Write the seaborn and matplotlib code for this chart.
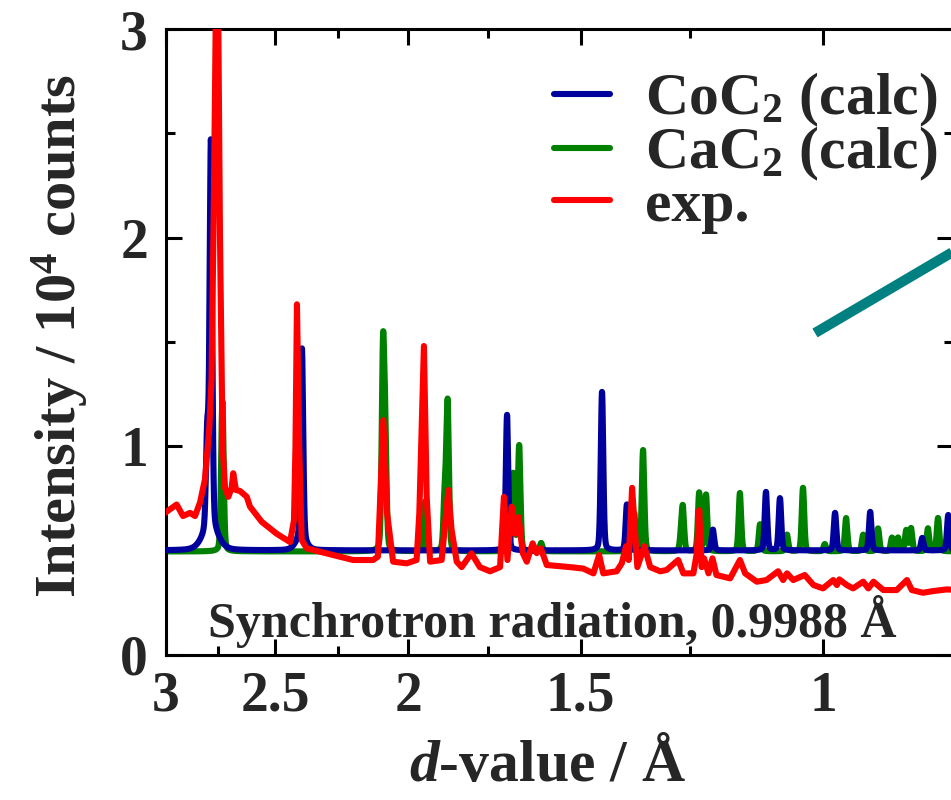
import numpy as np
import pandas as pd
import matplotlib
matplotlib.use("Agg")
import matplotlib.pyplot as plt
import seaborn as sns
from matplotlib.ticker import FixedLocator, FixedFormatter, NullFormatter
from matplotlib.lines import Line2D

# ---------------- data ----------------
# calculated patterns: peak positions d (Å), heights above baseline, widths (FWHM in ln d)
coc2_d = [2.800, 2.783, 2.785, 2.390, 2.395, 1.696, 1.447, 1.388, 1.202, 1.100, 1.0746, 0.980, 0.924, 0.847, 0.811]
coc2_h = [0.45, 1.85, 0.10, 0.92, 0.05, 0.65, 0.76, 0.22, 0.10, 0.28, 0.25, 0.18, 0.185, 0.06, 0.17]
coc2_w = [0.005, 0.005, 0.03, 0.005, 0.02, 0.005, 0.005, 0.005, 0.005, 0.005, 0.005, 0.005, 0.005, 0.005, 0.005]
coc2_base = 0.50

cac2_d = [2.730, 2.087, 2.079, 1.944, 1.882, 1.873, 1.679, 1.662, 1.602, 1.371, 1.351, 1.268, 1.264,
          1.230, 1.216, 1.149, 1.111, 1.062, 1.034, 0.997, 0.962, 0.935, 0.912, 0.891, 0.882,
          0.870, 0.863, 0.839, 0.825]
cac2_h = [0.72, 0.93, 0.50, 0.24, 0.28, 0.70, 0.37, 0.505, 0.04, 0.18, 0.485, 0.06, 0.20,
          0.28, 0.27, 0.28, 0.13, 0.08, 0.305, 0.035, 0.16, 0.08, 0.11, 0.065, 0.065,
          0.10, 0.11, 0.11, 0.16]
cac2_base = 0.495
calc_width = 0.005

# experimental trace (d in Å, intensity in 10^4 counts)
exp_d = [3.02, 2.947, 2.916, 2.882, 2.858, 2.834, 2.811, 2.791, 2.780, 2.769, 2.759, 2.750, 2.741,
         2.729, 2.718, 2.703, 2.688, 2.681, 2.669, 2.651, 2.621, 2.607, 2.556, 2.493, 2.438,
         2.422, 2.416, 2.410, 2.401, 2.391, 2.371, 2.269, 2.194, 2.122, 2.105, 2.098, 2.086,
         2.073, 2.052, 2.006, 1.973, 1.964, 1.949, 1.940, 1.929, 1.892, 1.876, 1.871, 1.861,
         1.845, 1.830, 1.800, 1.775, 1.745, 1.716, 1.705, 1.695, 1.683, 1.674, 1.664, 1.652,
         1.641, 1.625, 1.614, 1.603, 1.587, 1.527, 1.493, 1.468, 1.454, 1.444, 1.412, 1.400,
         1.390, 1.384, 1.376, 1.364, 1.348, 1.335, 1.313, 1.299, 1.274, 1.263, 1.242, 1.235,
         1.230, 1.225, 1.220, 1.211, 1.203, 1.195, 1.168, 1.149, 1.139, 1.117, 1.099, 1.078,
         1.069, 1.062, 1.051, 1.031, 1.016, 1.000, 0.983, 0.977, 0.973, 0.961, 0.951, 0.935,
         0.927, 0.919, 0.904, 0.884, 0.869, 0.862, 0.846, 0.832, 0.813, 0.795]
exp_i = [0.67, 0.72, 0.665, 0.68, 0.665, 0.73, 0.84, 1.08, 1.32, 2.2, 3.2, 3.2, 2.0,
         1.0, 0.80, 0.757, 0.80, 0.87, 0.79, 0.785, 0.757, 0.71, 0.637, 0.58, 0.54,
         0.645, 1.0, 1.68, 1.0, 0.55, 0.51, 0.478, 0.454, 0.454, 0.47, 0.71, 1.125,
         0.68, 0.446, 0.438, 0.454, 0.68, 1.48, 0.757, 0.446, 0.454, 0.71, 0.79, 0.60,
         0.446, 0.42, 0.486, 0.42, 0.40, 0.42, 0.757, 0.454, 0.71, 0.58, 0.66, 0.487,
         0.446, 0.534, 0.487, 0.51, 0.43, 0.42, 0.413, 0.39, 0.478, 0.39, 0.40, 0.438,
         0.52, 0.454, 0.80, 0.42, 0.52, 0.42, 0.40, 0.406, 0.454, 0.39, 0.39, 0.486,
         0.693, 0.42, 0.462, 0.39, 0.462, 0.382, 0.366, 0.454, 0.39, 0.35, 0.358, 0.40,
         0.358, 0.39, 0.358, 0.382, 0.334, 0.318, 0.358, 0.334, 0.361, 0.334, 0.318, 0.35,
         0.318, 0.35, 0.31, 0.31, 0.358, 0.31, 0.297, 0.305, 0.313, 0.31]

labels = [r"CoC$_2$ (calc)", r"CaC$_2$ (calc)", "exp."]
colors = ["#00009c", "#008000", "#ff0000"]
x_major = [3, 2.5, 2, 1.5, 1]
x_major_labels = ["3", "2.5", "2", "1.5", "1"]
x_minor = [2.75, 2.25, 1.75, 1.25]
y_major = [0, 1, 2, 3]
y_minor = [0.5, 1.5, 2.5]
note = "Synchrotron radiation, 0.9988 Å"


def pattern(grid, centers, heights, widths, base):
    x = np.log(grid)
    y = np.full_like(x, base)
    for c, h, w in zip(centers, heights, widths):
        u = (x - np.log(c)) / w
        y += h * (0.75 * np.exp(-4 * np.log(2) * u ** 2) + 0.25 / (1 + 4 * u ** 2))
    return y


grid = np.exp(np.linspace(np.log(0.79), np.log(3.05), 8000))
df_coc2 = pd.DataFrame({"d": grid, "I": pattern(grid, coc2_d, coc2_h, coc2_w, coc2_base)})
df_cac2 = pd.DataFrame({"d": grid, "I": pattern(grid, cac2_d, cac2_h, [calc_width] * len(cac2_d), cac2_base)})
df_exp = pd.DataFrame({"d": exp_d, "I": exp_i})

# ---------------- style ----------------
sns.set_theme(style="ticks")
plt.rcParams["font.family"] = ["Liberation Serif", "DejaVu Serif"]
plt.rcParams["font.weight"] = "bold"
plt.rcParams["axes.labelweight"] = "bold"
plt.rcParams["mathtext.fontset"] = "custom"
plt.rcParams["mathtext.rm"] = "Liberation Serif:bold"
plt.rcParams["mathtext.bf"] = "Liberation Serif:bold"
plt.rcParams["mathtext.it"] = "Liberation Serif:italic:bold"
plt.rcParams["mathtext.default"] = "rm"

fig = plt.figure(figsize=(9.51, 8.0), dpi=100)
W, H = 951.0, 800.0
ax = fig.add_axes([166 / W, 1 - 654.7 / H, (953 - 166) / W, (654.7 - 29) / H])

lw = 4.4
kw = dict(estimator=None, legend=False, ax=ax, linewidth=lw)
sns.lineplot(data=df_cac2, x="d", y="I", color=colors[1], zorder=2, **kw)
sns.lineplot(data=df_coc2, x="d", y="I", color=colors[0], zorder=3, **kw)
sns.lineplot(data=df_exp, x="d", y="I", color=colors[2], sort=False, zorder=4, **kw)
for ln in ax.get_lines():
    ln.set_solid_joinstyle("round")
    ln.set_solid_capstyle("round")
h_cac2, h_coc2, h_exp = ax.get_lines()[:3]

ax.set_xscale("log")
ax.set_xlim(3, 0.8046)
ax.set_ylim(0, 3)
ax.xaxis.set_major_locator(FixedLocator(x_major))
ax.xaxis.set_major_formatter(FixedFormatter(x_major_labels))
ax.xaxis.set_minor_locator(FixedLocator(x_minor))
ax.xaxis.set_minor_formatter(NullFormatter())
ax.yaxis.set_major_locator(FixedLocator(y_major))
ax.yaxis.set_minor_locator(FixedLocator(y_minor))

for s in ax.spines.values():
    s.set_linewidth(2.2)
    s.set_color("black")
ax.tick_params(which="both", direction="in", top=True, right=True, width=2.2, color="black")
ax.tick_params(which="major", length=11.5)
ax.tick_params(which="minor", length=6.5)
ax.tick_params(axis="x", which="major", labelsize=40, pad=11.5)
ax.tick_params(axis="y", which="major", labelsize=40, pad=13)
for t in ax.get_xticklabels() + ax.get_yticklabels():
    t.set_fontweight("bold")

ax.set_xlabel(r"$\mathit{d}$-value / Å", fontsize=43, fontweight="bold")
ax.set_ylabel(r"Intensity / 10$^4$ counts", fontsize=42, fontweight="bold")
ax.xaxis.set_label_coords(0.485, -0.136)
ax.yaxis.set_label_coords(-0.097, 0.51)

ax.text(0.0534, 0.0283, note, transform=ax.transAxes, ha="left", va="baseline",
        fontsize=36, fontweight="bold")

ax.legend(handles=[h_coc2, h_cac2, h_exp], labels=labels, loc="upper left",
          bbox_to_anchor=((554 - 166) / 787, (654.7 - 71) / 625.7), frameon=False,
          fontsize=43, handlelength=0.94, handletextpad=0.59, labelspacing=-0.07,
          borderpad=0, borderaxespad=0)

# teal pointer line (cut by the figure edge)
fig.add_artist(Line2D([815 / W, 975 / W], [1 - 333 / H, 1 - 238.9 / H], color="#008080",
                      linewidth=7.3, solid_capstyle="butt", transform=fig.transFigure))

fig.savefig("out.png", dpi=100)
